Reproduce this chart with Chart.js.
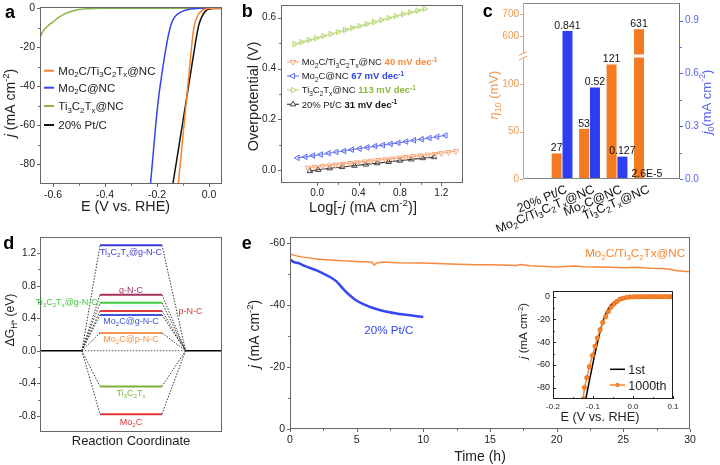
<!DOCTYPE html>
<html><head><meta charset="utf-8">
<script src="https://cdn.jsdelivr.net/npm/chart.js@4.4.1/dist/chart.umd.min.js"></script>
<style>
html,body{margin:0;padding:0;background:#fff}
body{width:720px;height:465px;position:relative;overflow:hidden}
canvas{position:absolute;display:block}
</style></head><body>
<canvas id="pa" width="240" height="232" style="left:0px;top:0px"></canvas>
<canvas id="pb" width="240" height="232" style="left:240px;top:0px"></canvas>
<canvas id="pc" width="240" height="232" style="left:480px;top:0px"></canvas>
<canvas id="pd" width="240" height="233" style="left:0px;top:232px"></canvas>
<canvas id="pe" width="480" height="233" style="left:240px;top:232px"></canvas>
<canvas id="pi" width="165" height="142" style="left:515px;top:283px"></canvas>
<script>
// ---------------- DATA ----------------
// (a) polarization curves: E (V vs RHE), j (mA cm-2)
const lsvE_MoTi=[-0.118,-0.11,-0.10,-0.09,-0.08,-0.07,-0.062,-0.055,-0.05,-0.04,-0.03,-0.02,-0.01,0.0,0.05];
const lsvJ_MoTi=[-90,-79,-65,-51.5,-37.7,-24,-13.5,-8,-5.8,-3,-1.4,-0.6,-0.2,0,0];
const lsvE_Mo=[-0.225,-0.215,-0.205,-0.195,-0.185,-0.175,-0.165,-0.155,-0.145,-0.135,-0.12,-0.10,-0.08,-0.06,-0.03,0.05];
const lsvJ_Mo=[-90,-75,-60,-47,-37,-28,-20,-13,-8,-5,-2.8,-1.4,-0.6,-0.2,0,0];
const lsvE_Ti=[-0.65,-0.64,-0.62,-0.60,-0.58,-0.56,-0.54,-0.52,-0.50,-0.47,-0.44,-0.40,0.05];
const lsvJ_Ti=[-15,-12,-9,-7,-4.8,-3.2,-2.0,-1.2,-0.6,-0.2,-0.05,0,0];
const lsvE_Pt=[-0.139,-0.125,-0.11,-0.095,-0.087,-0.08,-0.065,-0.05,-0.04,-0.03,-0.02,-0.01,0,0.02,0.05];
const lsvJ_Pt=[-90,-78.4,-65.9,-53.4,-46.8,-41,-28.5,-16,-9,-5,-2.5,-1.0,-0.4,-0.1,0];
const aXTicks=[-0.6,-0.4,-0.2,0.0], aYTicks=[0,-20,-40,-60,-80];
const aNames=['Mo_2C/Ti_3C_2T_x@NC','Mo_2C@NC','Ti_3C_2T_x@NC','20% Pt/C'];

// (b) Tafel plots: log|j|, overpotential (V)
const tafX_MoTi=[-0.09,-0.02,0.05,0.12,0.18,0.25,0.32,0.39,0.46,0.52,0.59,0.66,0.73,0.80,0.86,0.93,1.00,1.07,1.14,1.20,1.27,1.34];
const tafY_MoTi=[0.010,0.013,0.016,0.019,0.022,0.025,0.028,0.031,0.034,0.037,0.040,0.043,0.046,0.049,0.052,0.055,0.058,0.061,0.064,0.067,0.071,0.075];
const tafX_Mo=[-0.19,-0.115,-0.04,0.035,0.11,0.185,0.26,0.335,0.41,0.485,0.56,0.635,0.71,0.785,0.86,0.935,1.01,1.085,1.16,1.24];
const tafY_Mo=[0.049,0.053,0.058,0.062,0.067,0.072,0.076,0.081,0.085,0.090,0.095,0.099,0.104,0.108,0.113,0.118,0.122,0.127,0.132,0.137];
const tafX_Ti=[-0.22,-0.15,-0.08,-0.01,0.06,0.13,0.20,0.27,0.34,0.41,0.48,0.55,0.62,0.69,0.76,0.83,0.90,0.97,1.04];
const tafY_Ti=[0.496,0.504,0.512,0.520,0.528,0.536,0.544,0.552,0.560,0.567,0.575,0.583,0.591,0.599,0.606,0.614,0.621,0.628,0.635];
const tafX_Pt=[-0.07,0.01,0.12,0.24,0.36,0.47,0.58,0.69,0.80,0.91,1.02,1.13];
const tafY_Pt=[-0.003,0.002,0.008,0.013,0.018,0.023,0.028,0.033,0.038,0.043,0.048,0.052];
const tafSlopes=['40','67','113','31'];
const bNames=['Mo_2C/Ti_3C_2T_x@NC','Mo_2C@NC','Ti_3C_2T_x@NC','20% Pt/C'];
const bXTicks=[0,0.4,0.8,1.2], bYTicks=[0,0.2,0.4,0.6];

// (c) overpotential at 10 mA cm-2 and exchange current density
const cCats=['20% Pt/C','Mo_2C/Ti_3C_2T_x@NC','Mo_2C@NC','Ti_3C_2T_x@NC'];
const eta10=[27,53,121,631];
const j0=[0.841,0.52,0.127,0.000026];
const j0Text=['0.841','0.52','0.127','2.6E-5'];
const cLowTicks=[0,50,100], cHighTicks=[600,700], cRightTicks=[0,0.3,0.6,0.9];

// (d) free energy diagram
const rcX=[0,0.23,0.33,0.67,0.8,1];
const levelNames=['Ti_3C_2T_x@g-N-C','g-N-C','Ti_3C_2T_x@g-N-C','p-N-C','Mo_2C@g-N-C','Mo_2C@p-N-C','Ti_3C_2T_x','Mo_2C'];
const levelG=[1.30,0.69,0.59,0.49,0.44,0.22,-0.44,-0.78];
const dYTicks=[-0.8,-0.4,0,0.4,0.8,1.2];

// (e) stability
const eT_MoTi=[0,0.5,1,2,3,4,5,6,6.2,6.3,6.5,7,8,10,12,14,15,17,17.3,18,20,21.4,22,24,25,26,27,28,28.5,29,30];
const eJ_MoTi=[-56.4,-55.9,-55.5,-54.9,-54.6,-54.3,-54.1,-53.9,-53.7,-52.9,-53.6,-53.9,-53.7,-53.6,-53.3,-53.0,-53.0,-52.8,-53.1,-52.7,-52.3,-52.6,-52.4,-52.2,-52.1,-52.2,-51.9,-51.8,-51.6,-51.1,-50.8];
const eT_Pt=[0,0.25,0.5,0.75,1,1.5,2,2.5,3,3.5,4,4.5,5,5.5,6,7,8,9,10];
const eJ_Pt=[-54.7,-54.0,-53.7,-53.4,-52.8,-52.0,-51.2,-50.2,-49.1,-47.6,-45.2,-43.1,-41.4,-40.3,-39.4,-38.1,-37.3,-36.7,-36.2];
const eXTicks=[0,5,10,15,20,25,30], eYTicks=[0,-20,-40,-60];
// inset: LSV before/after 1000 cycles
const inE_1st=[-0.118,-0.108,-0.098,-0.088,-0.078,-0.068,-0.058,-0.048,-0.04,-0.03,-0.02,-0.01,0,0.1];
const inJ_1st=[-90,-72,-55,-39,-25,-15,-8.5,-5,-3.2,-1.7,-0.8,-0.3,-0.1,0];
const inE_1000=[-0.1245,-0.1214,-0.1154,-0.1089,-0.1015,-0.0948,-0.089,-0.0823,-0.0756,-0.0682,-0.0617,-0.055,-0.0475,-0.0408,-0.0326,-0.0244,-0.016,-0.008,0.0,0.008,0.016,0.024,0.032,0.040,0.048,0.056,0.064,0.072,0.080,0.088,0.096,0.100];
const inJ_1000=[-90,-79.9,-71.2,-61.6,-51.7,-43.6,-36.3,-29.1,-22.7,-17.5,-13.1,-9.3,-6.4,-4.4,-2.3,-1.4,-0.6,-0.3,-0.2,-0.1,-0.1,0,0,0,0,0,0,0,0,0,0,0];
const iXTicks=[-0.2,-0.1,0,0.1], iYTicks=[0,-20,-40,-60,-80];

// ---------------- STYLE / HELPERS ----------------
const FONT='"Liberation Sans", Arial, Helvetica, "DejaVu Sans", sans-serif';
const ORANGE='#F7842F', BLUE='#3345EE', GREEN='#8AB44A', BLACK='#111', FRAME='#666';
Chart.defaults.font.family=FONT;
Chart.defaults.color='#222';
Chart.defaults.plugins.legend.display=false;
Chart.defaults.plugins.tooltip.enabled=false;

function parseRich(str){
  const out=[]; let it=false, buf='', i=0;
  const flush=()=>{ if(buf){ out.push({t:buf,m:0,it}); buf=''; } };
  while(i<str.length){
    const c=str[i];
    if(c==='~'){ flush(); it=!it; i++; continue; }
    if(c==='_'||c==='^'){
      flush(); const m=c==='_'?1:-1; i++; let t;
      if(str[i]==='{'){ const j=str.indexOf('}',i); t=str.slice(i+1,j); i=j+1; } else { t=str[i]; i++; }
      out.push({t,m,it}); continue;
    }
    buf+=c; i++;
  }
  flush(); return out;
}
function drawRich(ctx,s){
  const size=s.size||12; const parts=s.parts||[{t:s.t}];
  const segs=[];
  parts.forEach(p=>parseRich(p.t).forEach(g=>{ g.c=p.color||s.color||'#222'; g.b=(p.bold!==undefined)?p.bold:!!s.bold; segs.push(g); }));
  const fnt=g=>(g.it?'italic ':'')+(g.b?'bold ':'')+(g.m?size*0.68:size)+'px '+FONT;
  let tot=0; segs.forEach(g=>{ ctx.font=fnt(g); g.w=ctx.measureText(g.t).width; tot+=g.w; });
  ctx.save(); ctx.translate(s.x,s.y); if(s.rot) ctx.rotate(s.rot*Math.PI/180);
  let x=s.align==='left'?0:s.align==='right'?-tot:-tot/2;
  ctx.textBaseline='alphabetic'; ctx.textAlign='left';
  const by=size*0.36;
  segs.forEach(g=>{ ctx.font=fnt(g); ctx.fillStyle=g.c; const dy=g.m===1?size*0.22:g.m===-1?-size*0.4:0; ctx.fillText(g.t,x,by+dy); x+=g.w; });
  ctx.restore();
  return tot;
}
function letter(ctx,t,x,y){ ctx.save(); ctx.font='bold 18px '+FONT; ctx.fillStyle='#000'; ctx.textBaseline='alphabetic'; ctx.textAlign='left'; ctx.fillText(t,x,y); ctx.restore(); }
function tri(ctx,x,y,r,rot,color){ ctx.save(); ctx.translate(x,y); ctx.rotate(rot*Math.PI/180); ctx.beginPath(); ctx.moveTo(0,-r); ctx.lineTo(r*0.866,r*0.5); ctx.lineTo(-r*0.866,r*0.5); ctx.closePath(); ctx.fillStyle='#fff'; ctx.fill(); ctx.strokeStyle=color; ctx.lineWidth=1; ctx.stroke(); ctx.restore(); }
function hline(ctx,x1,x2,y,color,w){ ctx.save(); ctx.strokeStyle=color; ctx.lineWidth=w||1.5; ctx.beginPath(); ctx.moveTo(x1,y); ctx.lineTo(x2,y); ctx.stroke(); ctx.restore(); }

function lin(o){
  const s={type:'linear', min:o.min, max:o.max, reverse:!!o.reverse, position:o.pos,
    grid:{display:false, drawTicks:false}, border:{display:false},
    ticks:{display:o.show!==false, padding:o.pad||3, font:{size:o.size||10}, color:o.color||'#222', autoSkip:false, maxRotation:0, minRotation:0,
      callback:o.fmt||(v=>String(v))},
    afterBuildTicks:sc=>{ sc.ticks=(o.ticks||[]).map(v=>({value:v})); },
    afterFit:sc=>{ if(o.w!==undefined) sc.width=o.w; if(o.h!==undefined) sc.height=o.h;
      sc.paddingTop=0; sc.paddingBottom=0; sc.paddingLeft=0; sc.paddingRight=0; }};
  return Object.assign(s,o.extra||{});
}
function xy(xs,ys){ return xs.map((x,i)=>({x:x,y:ys[i]})); }
function line(xs,ys,color,extra){ return Object.assign({data:xy(xs,ys),showLine:true,borderColor:color,backgroundColor:color,borderWidth:1.5,pointRadius:0,fill:false},extra||{}); }
const f1=v=>v.toFixed(1);

const EXTRA={};
Chart.register({id:'deco', afterDraw(chart){
  const ex=EXTRA[chart.canvas.id]; if(!ex) return;
  const ctx=chart.ctx, a=chart.chartArea;
  ctx.save();
  if(ex.frame){
    const f=ex.frame; const L=Math.round(a.left)+0.5, R=Math.round(a.right)-0.5, T=Math.round(a.top)+0.5, B=Math.round(a.bottom)-0.5;
    const side=(c,x1,y1,x2,y2)=>{ ctx.strokeStyle=c; ctx.lineWidth=1; ctx.beginPath(); ctx.moveTo(x1,y1); ctx.lineTo(x2,y2); ctx.stroke(); };
    side(f.top||f.color,L-0.5,T,R+0.5,T); side(f.bottom||f.color,L-0.5,B,R+0.5,B);
    side(f.left||f.color,L,T-0.5,L,B+0.5); side(f.right||f.color,R,T-0.5,R,B+0.5);
  }
  (ex.axes||[]).forEach(ax=>{
    const sc=chart.scales[ax.id]; if(!sc) return; const vals=sc.ticks.map(t=>t.value);
    const len=ax.len||3, dir=ax.inward?-1:1;
    ctx.strokeStyle=ax.color||(ex.frame&&ex.frame.color)||FRAME; ctx.lineWidth=1;
    const tk=(v,l)=>{ const p=Math.round(sc.getPixelForValue(v))+0.5; ctx.beginPath();
      if(ax.side==='bottom'){ ctx.moveTo(p,a.bottom); ctx.lineTo(p,a.bottom+dir*l); }
      else if(ax.side==='left'){ ctx.moveTo(a.left,p); ctx.lineTo(a.left-dir*l,p); }
      else { ctx.moveTo(a.right,p); ctx.lineTo(a.right+dir*l,p); }
      ctx.stroke(); };
    vals.forEach(v=>tk(v,len));
    if(ax.minor){ for(let i=0;i<vals.length-1;i++) tk((vals[i]+vals[i+1])/2, len*0.6); }
  });
  if(ex.draw) ex.draw(chart,ctx,a);
  ctx.restore();
}});
const base={devicePixelRatio:1, responsive:false, animation:false, events:[]};

// ---------------- (a) ----------------
const aColors=[ORANGE,BLUE,GREEN,BLACK];
EXTRA.pa={frame:{color:FRAME},axes:[{id:'x',side:'bottom',minor:true},{id:'y',side:'left',minor:true}],
  draw(chart,ctx){
    letter(ctx,'a',5,18);
    drawRich(ctx,{t:'~j~ (mA cm^{-2})',x:10,y:103,size:14,rot:-90});
    drawRich(ctx,{t:'E (V vs. RHE)',x:125.5,y:205.5,size:14.3});
    const ys=[70.7,87.7,106,125];
    aNames.forEach((n,i)=>{ hline(ctx,44,54,ys[i],aColors[i],2); drawRich(ctx,{t:n,x:58.3,y:ys[i],size:11.5,align:'left'}); });
  }};
new Chart(document.getElementById('pa'),{type:'scatter',
  data:{datasets:[
    line(lsvE_MoTi,lsvJ_MoTi,ORANGE,{cubicInterpolationMode:'monotone'}),
    line(lsvE_Mo,lsvJ_Mo,BLUE,{cubicInterpolationMode:'monotone'}),
    line(lsvE_Ti,lsvJ_Ti,GREEN,{cubicInterpolationMode:'monotone'}),
    line(lsvE_Pt,lsvJ_Pt,BLACK,{cubicInterpolationMode:'monotone'})]},
  options:Object.assign({},base,{layout:{padding:{top:7,right:18,left:0,bottom:0}},
    scales:{x:lin({min:-0.65,max:0.05,ticks:aXTicks,fmt:f1,h:48,pad:5,size:10.5}),
            y:lin({min:-90,max:0.7,ticks:aYTicks,w:40,pad:5,size:10.5})}})});

// ---------------- (b) ----------------
const bCol=['#F9A470','#5B6AF0','#B3D66E','#444'];
const bLine=['#F9B08A','#7A86F2','#B9DA7A','#444'];
const bBold=['#F98A3C','#2F45E8','#8CB63C','#111'];
const bRot=[180,-90,90,0];
function tafDs(xs,ys,i){ return line(xs,ys,bLine[i],{borderWidth:1.2,pointRadius:3.2,pointStyle:'triangle',rotation:bRot[i],pointBorderColor:bCol[i],pointBackgroundColor:'rgba(255,255,255,0)',pointBorderWidth:1}); }
EXTRA.pb={frame:{color:FRAME},axes:[{id:'x',side:'bottom',minor:true},{id:'y',side:'left',minor:true}],
  draw(chart,ctx){
    letter(ctx,'b',1.7,16.7);
    drawRich(ctx,{t:'Overpotential (V)',x:13,y:96.5,size:14.5,rot:-90});
    drawRich(ctx,{t:'Log[-~j~ (mA cm^{-2})]',x:123,y:207,size:14.5});
    const ys=[62,76,90,104.3];
    bNames.forEach((n,i)=>{ hline(ctx,47,59,ys[i],bLine[i],1.2); tri(ctx,53,ys[i],3.2,bRot[i],bCol[i]);
      drawRich(ctx,{parts:[{t:n+' '},{t:tafSlopes[i]+' mV dec^{-1}',color:bBold[i],bold:true}],x:61.7,y:ys[i],size:9.5,align:'left'}); });
  }};
new Chart(document.getElementById('pb'),{type:'scatter',
  data:{datasets:[tafDs(tafX_MoTi,tafY_MoTi,0),tafDs(tafX_Mo,tafY_Mo,1),tafDs(tafX_Ti,tafY_Ti,2),tafDs(tafX_Pt,tafY_Pt,3)]},
  options:Object.assign({},base,{layout:{padding:{top:3,right:17,left:0,bottom:0}},
    scales:{x:lin({min:-0.35,max:1.41,ticks:bXTicks,fmt:f1,h:49,pad:4,size:10}),
            y:lin({min:-0.05,max:0.65,ticks:bYTicks,fmt:f1,w:41,pad:5,size:10})}})});

// ---------------- (c) ----------------
const C_OR='#F47B20', C_BL='#2E3DF2', C_ORA='#F39A52', C_BLA='#5866EE';
const cx=cCats.map((c,i)=>i);
EXTRA.pc={frame:{color:'#888',left:C_ORA,right:C_BLA},axes:[{id:'yLow',side:'left',color:C_ORA},{id:'yHigh',side:'left',color:C_ORA},{id:'y1',side:'right',color:C_BLA,minor:true}],
  draw(chart,ctx,a){
    letter(ctx,'c',2.7,16.7);
    const yl=chart.scales.yLow, yh=chart.scales.yHigh, y1=chart.scales.y1;
    const m0=chart.getDatasetMeta(0).data, m2=chart.getDatasetMeta(2).data;
    const by=Math.round(yl.top);
    const el=m0[3]; ctx.fillStyle='#fff'; ctx.fillRect(el.x-el.width/2-1,by-1.5,el.width+2,3);
    ctx.fillRect(a.left-5,by-2.5,9,5);
    ctx.strokeStyle=C_ORA; ctx.lineWidth=1;
    ctx.beginPath(); ctx.moveTo(a.left-4,by-0.5); ctx.lineTo(a.left+4,by-4.5); ctx.moveTo(a.left-4,by+4); ctx.lineTo(a.left+4,by); ctx.stroke();
    eta10.forEach((v,i)=>{ const sc=v>yl.max?yh:yl; drawRich(ctx,{t:String(v),x:m0[i].x,y:sc.getPixelForValue(v)-6,size:10.5,color:'#111'}); });
    j0.forEach((v,i)=>{ drawRich(ctx,{t:j0Text[i],x:m2[i].x-(i===3?3:0),y:y1.getPixelForValue(v)-6,size:10.5,color:'#111'}); });
    cCats.forEach((c,i)=>{ const cxp=(m0[i].x+m2[i].x)/2; drawRich(ctx,{t:c,x:cxp+4,y:a.bottom+9,size:12.5,rot:-23,align:'right',color:'#111'}); });
    drawRich(ctx,{t:'~η~_{10} (mV)',x:13.5,y:95,size:13,rot:-90,color:C_ORA});
    drawRich(ctx,{t:'~j~_0(mA cm^{-2})',x:226,y:102,size:13,rot:-90,color:C_BLA});
  }};
new Chart(document.getElementById('pc'),{type:'bar',
  data:{datasets:[
    {data:xy(cx,eta10),yAxisID:'yLow',stack:'o',backgroundColor:C_OR,borderWidth:0,barPercentage:0.92,categoryPercentage:0.79},
    {data:xy(cx,eta10),yAxisID:'yHigh',stack:'o',backgroundColor:C_OR,borderWidth:0,barPercentage:0.92,categoryPercentage:0.79},
    {data:xy(cx,j0),yAxisID:'y1',stack:'b',backgroundColor:C_BL,borderWidth:0,barPercentage:0.92,categoryPercentage:0.79}]},
  options:Object.assign({},base,{layout:{padding:{top:3,right:0,left:0,bottom:0}},
    scales:{
      x:lin({min:-0.708,max:3.58,ticks:[0,1,2,3],show:false,h:53}),
      yLow:lin({min:0,max:130,ticks:cLowTicks,w:43,pad:4,size:10,color:C_ORA,pos:'left',extra:{stack:'L',stackWeight:123,weight:0,stacked:false}}),
      yHigh:lin({min:509,max:750,ticks:cHighTicks,w:43,pad:4,size:10,color:C_ORA,pos:'left',extra:{stack:'L',stackWeight:53,weight:1,stacked:false}}),
      y1:lin({min:0,max:1.0,ticks:cRightTicks,fmt:f1,w:40,pad:5,size:10,color:C_BLA,pos:'right',extra:{stacked:false}})}})});

// ---------------- (d) ----------------
const levelColors=['#3A3AD6','#A3305E','#3CCB3C','#E23A3A','#3D55D8','#F59450','#7FB03C','#E03535'];
const levelLabelDy=[6.5,-5,-1.5,0,5.5,5.8,5.8,7.5];
const levelLabelX=[131,131,66.7,190.5,131,131,131,131];
const dDs=[];
levelG.forEach((g,i)=>dDs.push(line([rcX[2],rcX[3]],[g,g],levelColors[i],{borderWidth:2})));
levelG.forEach((g,i)=>{
  dDs.push(line([rcX[1],rcX[2]],[0,g],'#333',{borderWidth:1,borderDash:[1.5,1.5]}));
  dDs.push(line([rcX[3],rcX[4]],[g,0],'#333',{borderWidth:1,borderDash:[1.5,1.5]}));
});
dDs.push(line([rcX[1],rcX[4]],[0,0],'#555',{borderWidth:1,borderDash:[1.5,1.5]}));
dDs.push(line([rcX[0],rcX[1]],[0,0],'#000',{borderWidth:1.5}));
dDs.push(line([rcX[4],rcX[5]],[0,0],'#000',{borderWidth:1.5}));
EXTRA.pd={frame:{color:FRAME},axes:[{id:'y',side:'left',minor:true}],
  draw(chart,ctx){
    letter(ctx,'d',3.3,17.3);
    const y=chart.scales.y;
    levelNames.forEach((n,i)=>drawRich(ctx,{t:n,x:levelLabelX[i],y:y.getPixelForValue(levelG[i])+levelLabelDy[i],size:9,color:levelColors[i]}));
    drawRich(ctx,{t:'ΔG_{H*} (eV)',x:10,y:88,size:12,rot:-90});
    drawRich(ctx,{t:'Reaction Coordinate',x:131,y:208,size:13});
  }};
new Chart(document.getElementById('pd'),{type:'scatter',data:{datasets:dDs},
  options:Object.assign({},base,{layout:{padding:{top:5,right:18,left:0,bottom:0}},
    scales:{x:lin({min:0,max:1,ticks:[],show:false,h:33}),
            y:lin({min:-1,max:1.4,ticks:dYTicks,fmt:f1,w:40,pad:4,size:10})}})});

// ---------------- (e) ----------------
EXTRA.pe={frame:{color:FRAME},axes:[{id:'x',side:'bottom',minor:true},{id:'y',side:'left',minor:true}],
  draw(chart,ctx){
    letter(ctx,'e',1.7,17.3);
    drawRich(ctx,{t:'~j~ (mA cm^{-2})',x:14,y:102,size:14,rot:-90});
    drawRich(ctx,{t:'Time (h)',x:240,y:224,size:14});
    drawRich(ctx,{t:'Mo_2C/Ti_3C_2Tx@NC',x:445,y:21.3,size:11.6,align:'right',color:'#F7842F'});
    drawRich(ctx,{t:'20% Pt/C',x:148.8,y:98,size:11.6,color:'#3345EE'});
  }};
new Chart(document.getElementById('pe'),{type:'scatter',
  data:{datasets:[line(eT_MoTi,eJ_MoTi,'#F7893A',{borderWidth:1.5}),line(eT_Pt,eJ_Pt,'#3548F0',{borderWidth:2.5,cubicInterpolationMode:'monotone'})]},
  options:Object.assign({},base,{layout:{padding:{top:5,right:30,left:0,bottom:0}},
    scales:{x:lin({min:0,max:30,ticks:eXTicks,h:36,pad:5,size:10.5}),
            y:lin({min:-62,max:0,reverse:true,ticks:eYTicks,w:50,pad:5,size:10.5})}})});

// ---------------- inset ----------------
EXTRA.pi={frame:{color:'#222'},axes:[{id:'x',side:'bottom',minor:true,inward:true,color:'#222'},{id:'y',side:'left',minor:true,inward:true,color:'#222'}],
  draw(chart,ctx){
    drawRich(ctx,{t:'~j~ (mA cm^{-2})',x:8.3,y:48,size:11.5,rot:-90});
    drawRich(ctx,{t:'E (V vs. RHE)',x:85,y:133.7,size:12.7});
    hline(ctx,95,110,86.3,'#000',1.5); drawRich(ctx,{t:'1st',x:113.3,y:86.3,size:12.5,align:'left'});
    hline(ctx,95,110,102,'#F7842F',1.5);
    ctx.beginPath(); ctx.arc(102.5,102,2.2,0,Math.PI*2); ctx.fillStyle='#F7842F'; ctx.fill();
    drawRich(ctx,{t:'1000th',x:113.3,y:102,size:12.5,align:'left'});
  }};
new Chart(document.getElementById('pi'),{type:'scatter',
  data:{datasets:[
    line(inE_1000,inJ_1000,'#F7842F',{borderWidth:1.5,pointRadius:2.2,pointBackgroundColor:'#F7842F',pointBorderColor:'#E8701A',pointBorderWidth:0.8}),
    line(inE_1st,inJ_1st,'#000',{borderWidth:1.5,cubicInterpolationMode:'monotone'})]},
  options:Object.assign({},base,{layout:{padding:{top:8,right:7,left:0,bottom:0}},
    scales:{x:lin({min:-0.2,max:0.1,ticks:iXTicks,fmt:f1,h:26,pad:3,size:8}),
            y:lin({min:-90,max:5,ticks:iYTicks,w:38,pad:3,size:9})}})});
</script></body></html>
